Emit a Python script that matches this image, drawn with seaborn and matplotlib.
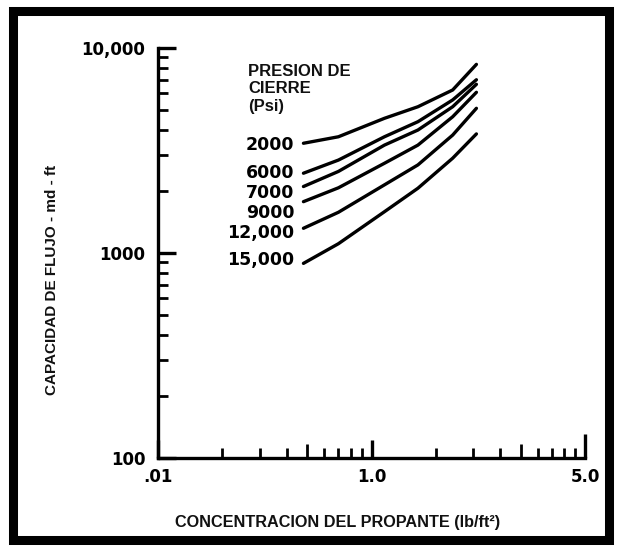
import numpy as np
import pandas as pd
import seaborn as sns
import matplotlib.pyplot as plt
from matplotlib.patches import Rectangle
from matplotlib.ticker import NullFormatter, LogLocator

# concentracion del propante (lb/ft2) where each curve was read
conc = [0.48, 0.7, 1.15, 1.65, 2.4, 3.1]

# capacidad de flujo (md-ft) for each closure pressure
cap_2000 = [3430, 3690, 4540, 5170, 6240, 8320]
cap_6000 = [2450, 2840, 3690, 4370, 5580, 7000]
cap_7000 = [2110, 2500, 3360, 3980, 5170, 6650]
cap_9000 = [1780, 2080, 2740, 3360, 4620, 6080]
cap_12000 = [1320, 1580, 2150, 2690, 3760, 5080]
cap_15000 = [890, 1110, 1590, 2070, 2900, 3810]

pressure_labels = ["2000", "6000", "7000", "9000", "12,000", "15,000"]
label_dy = [-2, 0, -6, -11, -5, 3]   # pixel nudges for the curve labels

x_ticks = [0.1, 1, 10]
x_ticklabels = [".01", "1.0", "5.0"]
y_ticks = [100, 1000, 10000]
y_ticklabels = ["100", "1000", "10,000"]

series = [cap_2000, cap_6000, cap_7000, cap_9000, cap_12000, cap_15000]
df = pd.concat(
    [pd.DataFrame({"conc": conc, "cap": s, "presion": p})
     for s, p in zip(series, pressure_labels)],
    ignore_index=True,
)

sns.set_style("ticks")
plt.rcParams["font.family"] = ["Liberation Sans", "DejaVu Sans"]
plt.rcParams.update({"text.color": "black", "xtick.color": "black",
                     "ytick.color": "black", "axes.labelcolor": "black",
                     "axes.edgecolor": "black"})

fig = plt.figure(figsize=(6.18, 5.47), dpi=100)
ax = fig.add_axes([158 / 618, 89 / 547, 427 / 618, 410 / 547])

sns.lineplot(data=df, x="conc", y="cap", hue="presion",
             palette=["black"] * len(pressure_labels), legend=False,
             linewidth=2.4, ax=ax, sort=False)

ax.set_xscale("log")
ax.set_yscale("log")
ax.set_xlim(0.1, 10)
ax.set_ylim(100, 10000)

ax.set_xticks(x_ticks)
ax.set_xticklabels(x_ticklabels)
ax.set_yticks(y_ticks)
ax.set_yticklabels(y_ticklabels)
ax.xaxis.set_minor_locator(LogLocator(subs=np.arange(2, 10)))
ax.yaxis.set_minor_locator(LogLocator(subs=np.arange(2, 10)))
ax.xaxis.set_minor_formatter(NullFormatter())
ax.yaxis.set_minor_formatter(NullFormatter())

ax.tick_params(which="major", direction="in", length=13, width=2.4,
               color="black", labelcolor="black")
ax.tick_params(which="minor", direction="in", length=7.5, width=2.0,
               color="black")
ax.tick_params(axis="x", which="major", pad=7)
ax.tick_params(axis="y", which="major", pad=9)
for lab in ax.get_xticklabels() + ax.get_yticklabels():
    lab.set_fontfamily("DejaVu Sans")
    lab.set_fontweight("bold")
    lab.set_fontsize(12)

# medium ticks at 0.5 and 5, tall tick at the right end
for t, loc in zip(ax.xaxis.get_minor_ticks(), ax.xaxis.get_minorticklocs()):
    if np.isclose(loc, 0.5) or np.isclose(loc, 5):
        t.tick1line.set_markersize(10)
ax.xaxis.get_major_ticks()[2].tick1line.set_markersize(17)

sns.despine(ax=ax)
for side in ["left", "bottom"]:
    ax.spines[side].set_linewidth(2.4)
ax.set_xlabel("")
ax.set_ylabel("")

for s, lab, dy in zip(series, pressure_labels, label_dy):
    ax.annotate(lab, xy=(conc[0], s[0]), xytext=(-9, dy),
                textcoords="offset pixels", ha="right", va="center",
                fontsize=12.5, fontweight="bold", family="DejaVu Sans",
                color="black")

fig.text(248 / 618, 1 - 64 / 547, "PRESION DE\nCIERRE\n(Psi)",
         ha="left", va="top", fontsize=12, fontweight="bold",
         linespacing=1.2, color="#111111")

fig.text(52 / 618, 1 - 280 / 547, "CAPACIDAD DE FLUJO - md - ft",
         rotation=90, ha="center", va="center", fontsize=11,
         fontweight="bold", color="#111111")
fig.text(338 / 618, 1 - 523 / 547, "CONCENTRACION DEL PROPANTE (lb/ft²)",
         ha="center", va="center", fontsize=11.7, fontweight="bold",
         color="#111111")

fig.patches.append(Rectangle((13 / 618, 7 / 547), 596 / 618, 529.5 / 547,
                             transform=fig.transFigure, fill=False,
                             lw=6.5, ec="black"))

fig.savefig("out.png", dpi=100)
